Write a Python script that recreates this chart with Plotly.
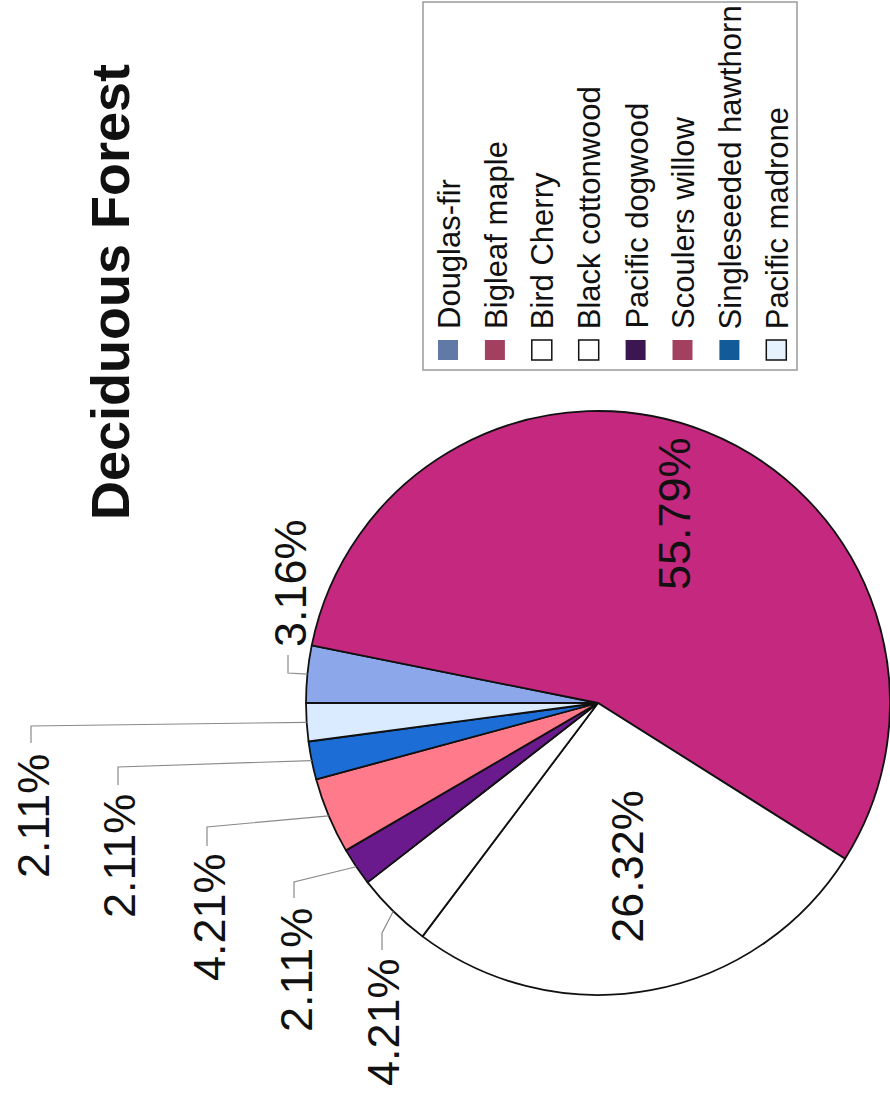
import math
import plotly.graph_objects as go

# ---------------- data ----------------
species = ["Douglas-fir", "Bigleaf maple", "Bird Cherry", "Black cottonwood",
           "Pacific dogwood", "Scoulers willow", "Singleseeded hawthorn", "Pacific madrone"]
counts = [3, 53, 25, 4, 2, 4, 2, 2]
title_text = "Deciduous Forest"

# ---------------- styles ----------------
pie_colors = ["#8CA8EA", "#C4287F", "#FFFFFF", "#FFFFFF",
              "#6A1A8C", "#FF7A8A", "#1C6ED6", "#DAEBFF"]
legend_colors = ["#6079A6", "#A3405F", "#FFFFFF", "#FFFFFF",
                 "#3C1650", "#A3405F", "#135A98", "#E6F3FF"]
legend_outlined = [False, False, True, True, False, False, False, True]

W, H = 890, 1097
CX, CY, R = 598, 703, 292          # pie centre / radius in pixels
ROTATION = 270

# label placement (layout): inside labels by radius fraction, outside labels by pixel centre
inside_label_frac = {1: 0.70, 2: 0.57}
outside_label_centre = {0: (290, 583), 7: (33, 816), 6: (119, 856),
                        5: (209, 917), 4: (296, 970), 3: (383, 1022)}
outside_elbow = {0: (288, 673), 7: (31, 726), 6: (118, 767),
                 5: (207, 827), 4: (294, 882), 3: (382, 933)}
outside_tip = {0: (288, 655), 7: (31, 743), 6: (118, 785),
               5: (207, 846), 4: (294, 898), 3: (382, 950)}

FONT = "Liberation Sans, Arial, Helvetica, sans-serif"


def px(x):
    return x / W


def py(y):
    return 1 - y / H


fig = go.Figure(go.Pie(
    labels=species, values=counts, sort=False, direction="clockwise",
    rotation=ROTATION, textinfo="none", hoverinfo="label+percent",
    marker=dict(colors=pie_colors, line=dict(color="#111111", width=1.8)),
    domain=dict(x=[px(CX - R), px(CX + R)], y=[py(CY + R), py(CY - R)]),
    showlegend=False,
))

annotations = []
shapes = []

total = sum(counts)
start = ROTATION
for i, v in enumerate(counts):
    span = v / total * 360
    mid = math.radians(start + span / 2)
    start += span
    pct = f"{v / total * 100:.2f}%"
    if i in inside_label_frac:
        f = inside_label_frac[i]
        lx = CX + f * R * math.sin(mid)
        ly = CY - f * R * math.cos(mid)
        annotations.append(dict(x=px(lx), y=py(ly), xref="paper", yref="paper",
                                text=pct, showarrow=False, textangle=-90,
                                xanchor="center", yanchor="middle",
                                font=dict(family=FONT, size=45, color="#111111")))
    else:
        ex = CX + R * math.sin(mid)
        ey = CY - R * math.cos(mid)
        (bx, by) = outside_elbow[i]
        (tx, ty) = outside_tip[i]
        shapes.append(dict(type="path", xref="paper", yref="paper",
                           path=f"M {px(ex)} {py(ey)} L {px(bx)} {py(by)} L {px(tx)} {py(ty)}",
                           line=dict(color="#8a8a8a", width=1.2)))
        lx, ly = outside_label_centre[i]
        annotations.append(dict(x=px(lx), y=py(ly), xref="paper", yref="paper",
                                text=pct, showarrow=False, textangle=-90,
                                xanchor="center", yanchor="middle",
                                font=dict(family=FONT, size=45, color="#111111")))

# title
annotations.append(dict(x=px(110), y=py(292), xref="paper", yref="paper",
                        text=f"<b>{title_text}</b>", showarrow=False, textangle=-90,
                        xanchor="center", yanchor="middle",
                        font=dict(family=FONT, size=54, color="#111111")))

# legend (rotated, drawn manually)
LEG_X0, LEG_X1, LEG_Y0, LEG_Y1 = 423, 797, 2, 370
shapes.append(dict(type="rect", xref="paper", yref="paper",
                   x0=px(LEG_X0), x1=px(LEG_X1), y0=py(LEG_Y1), y1=py(LEG_Y0),
                   line=dict(color="#9a9a9a", width=1.5), fillcolor="rgba(0,0,0,0)"))
first_x, step = 448, 46.9
for i, name in enumerate(species):
    cxl = first_x + i * step
    shapes.append(dict(type="rect", xref="paper", yref="paper",
                       x0=px(cxl - 10), x1=px(cxl + 10), y0=py(360), y1=py(340),
                       fillcolor=legend_colors[i],
                       line=dict(color="#111111" if legend_outlined[i] else legend_colors[i],
                                 width=1.5 if legend_outlined[i] else 0)))
    annotations.append(dict(x=px(cxl + 1), y=py(331), xref="paper", yref="paper",
                            text=name, showarrow=False, textangle=-90,
                            xanchor="center", yanchor="bottom",
                            font=dict(family=FONT, size=31, color="#111111")))

fig.update_layout(
    width=W, height=H, margin=dict(l=0, r=0, t=0, b=0),
    paper_bgcolor="white", plot_bgcolor="white",
    annotations=annotations, shapes=shapes, showlegend=False,
)

fig.write_html("out.html")
